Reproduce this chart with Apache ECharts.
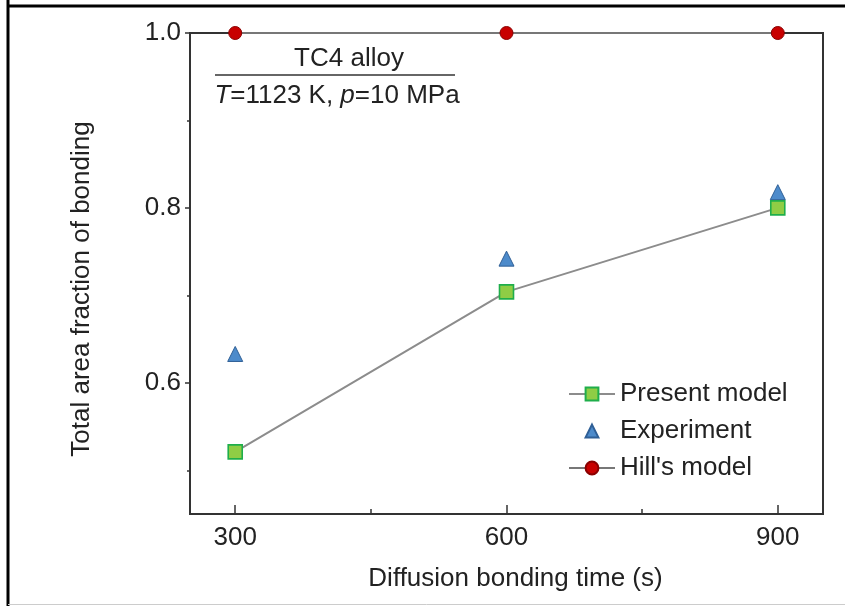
<!DOCTYPE html>
<html>
<head>
<meta charset="utf-8">
<script src="https://cdn.jsdelivr.net/npm/echarts@6/dist/echarts.min.js"></script>
<style>html,body{margin:0;padding:0;background:#fff}#c{width:845px;height:606px}</style>
</head>
<body>
<div id="c"></div>
<script>
const times = [300, 600, 900];
const presentModel = [0.521, 0.704, 0.800];
const experiment = [0.633, 0.742, 0.818];
const hillsModel = [1.0, 1.0, 1.0];
const xTickLabels = [300, 600, 900];
const xMinorTicks = [450, 750];
const yTickLabels = [0.6, 0.8, 1.0];
const yMinorTicks = [0.5, 0.7, 0.9];

const FONT = '"Liberation Sans", Arial, sans-serif';
const TXT = '#222';
const FS = 26;
const chart = echarts.init(document.getElementById('c'), null, {renderer: 'canvas'});
const pairs = v => times.map((t, i) => [t, v[i]]);

chart.setOption({
  animation: false,
  backgroundColor: '#fff',
  textStyle: {fontFamily: FONT, color: TXT},
  grid: {left: 190, right: 22, top: 33, bottom: 92, show: true, borderColor: '#333', borderWidth: 2, backgroundColor: 'transparent'},
  xAxis: [{
    type: 'value', min: 250, max: 950,
    name: 'Diffusion bonding time (s)', nameLocation: 'middle', nameGap: 52,
    nameTextStyle: {fontSize: FS, color: TXT, fontFamily: FONT, padding: [0, 0, 0, 18]},
    axisLine: {show: true, lineStyle: {color: '#333', width: 2}},
    axisTick: {show: true, inside: true, length: 9, customValues: xTickLabels, lineStyle: {color: '#333', width: 1.5}},
    axisLabel: {show: true, customValues: xTickLabels, fontSize: FS, color: TXT, margin: 11, fontFamily: FONT},
    splitLine: {show: false}
  }, {
    type: 'value', min: 250, max: 950, position: 'bottom',
    axisLine: {show: false},
    axisTick: {show: true, inside: true, length: 5, customValues: xMinorTicks, lineStyle: {color: '#333', width: 1.5}},
    axisLabel: {show: false}, splitLine: {show: false}
  }],
  yAxis: [{
    type: 'value', min: 0.45, max: 1.0,
    axisLine: {show: true, lineStyle: {color: '#333', width: 2}},
    axisTick: {show: true, inside: false, length: 5, customValues: yTickLabels, lineStyle: {color: '#333', width: 1.5}},
    axisLabel: {show: true, customValues: yTickLabels, fontSize: FS, color: TXT, margin: 9, fontFamily: FONT,
      formatter: v => v.toFixed(1)},
    splitLine: {show: false}
  }, {
    type: 'value', min: 0.45, max: 1.0, position: 'left',
    axisLine: {show: false},
    axisTick: {show: true, inside: false, length: 3, customValues: yMinorTicks, lineStyle: {color: '#333', width: 1.5}},
    axisLabel: {show: false}, splitLine: {show: false}
  }],
  legend: {
    orient: 'vertical', left: 563, top: 376, itemWidth: 46, itemHeight: 16, itemGap: 11,
    textStyle: {fontSize: FS, color: TXT, fontFamily: FONT},
    data: ['Present model', 'Experiment', "Hill's model"]
  },
  series: [{
    name: 'Present model', type: 'line', xAxisIndex: 0, yAxisIndex: 0,
    data: pairs(presentModel),
    symbol: 'rect', symbolSize: 14, z: 4,
    lineStyle: {color: '#8c8c8c', width: 2},
    itemStyle: {color: '#8fcd45', borderColor: '#1fae4b', borderWidth: 1.6}
  }, {
    name: 'Experiment', type: 'line', xAxisIndex: 0, yAxisIndex: 0,
    data: pairs(experiment),
    symbol: 'triangle', symbolSize: 15, z: 3,
    lineStyle: {width: 0, opacity: 0},
    itemStyle: {color: '#4d8bcb', borderColor: '#2f5f96', borderWidth: 1}
  }, {
    name: "Hill's model", type: 'line', xAxisIndex: 0, yAxisIndex: 0,
    data: pairs(hillsModel),
    symbol: 'circle', symbolSize: 13, z: 5,
    lineStyle: {color: '#777', width: 2},
    itemStyle: {color: '#c80000', borderColor: '#8a0000', borderWidth: 1}
  }],
  graphic: [
    {type: 'line', shape: {x1: 8, y1: 0, x2: 8, y2: 606}, style: {stroke: '#000', lineWidth: 3}},
    {type: 'line', shape: {x1: 8, y1: 6, x2: 845, y2: 6}, style: {stroke: '#000', lineWidth: 3}},
    {type: 'line', shape: {x1: 8, y1: 604.5, x2: 845, y2: 604.5}, style: {stroke: '#ccc', lineWidth: 1}},
    {type: 'text', x: 82, y: 289, rotation: Math.PI / 2,
      style: {text: 'Total area fraction of bonding', x: 0, y: 0, align: 'center', verticalAlign: 'middle', fontSize: FS, fill: TXT, fontFamily: FONT}},
    {type: 'text', style: {text: 'TC4 alloy', x: 349, y: 59, align: 'center', verticalAlign: 'middle', fontSize: FS, fill: TXT, fontFamily: FONT}},
    {type: 'line', shape: {x1: 215, y1: 75, x2: 455, y2: 75}, style: {stroke: '#333', lineWidth: 1.5}},
    {type: 'text', style: {
      text: '{i|T}=1123 K, {i|p}=10 MPa', x: 337, y: 96, align: 'center', verticalAlign: 'middle',
      fontSize: FS, fill: TXT, fontFamily: FONT,
      rich: {i: {fontStyle: 'italic', fontSize: FS, fill: TXT, fontFamily: FONT}}
    }}
  ]
});
</script>
</body>
</html>
